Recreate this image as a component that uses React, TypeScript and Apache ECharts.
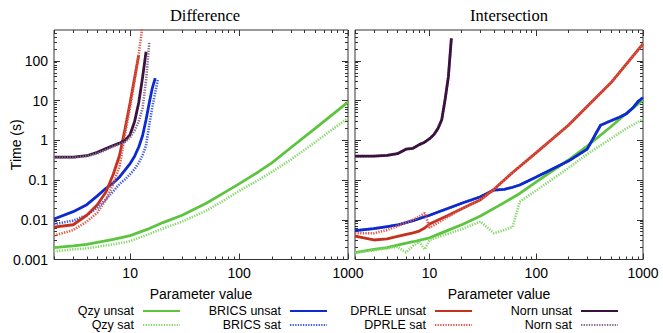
import React, { useEffect, useRef } from 'react';
import * as echarts from 'echarts';

// ---- axis ticks ----
const xTickValues = [10, 100, 1000];
const xTickLabels = ['10', '100', '1000'];
const xMinorTicks = [2, 3, 4, 5, 6, 7, 8, 9, 20, 30, 40, 50, 60, 70, 80, 90, 200, 300, 400, 500, 600, 700, 800, 900];
const yTickValues = [0.001, 0.01, 0.1, 1, 10, 100];
const yTickLabels = ['0.001', '0.01', '0.1', '1', '10', '100'];
const yMinorTicks = [
  0.002, 0.003, 0.004, 0.005, 0.006, 0.007, 0.008, 0.009,
  0.02, 0.03, 0.04, 0.05, 0.06, 0.07, 0.08, 0.09,
  0.2, 0.3, 0.4, 0.5, 0.6, 0.7, 0.8, 0.9,
  2, 3, 4, 5, 6, 7, 8, 9,
  20, 30, 40, 50, 60, 70, 80, 90,
  200, 300, 400, 500,
];

// ---- Difference panel ----
const diffQzyX = [2, 3, 4, 5, 7, 10, 15, 20, 30, 50, 70, 100, 150, 200, 300, 500, 700, 1000];
const diffQzyUnsat = [0.002, 0.0022, 0.0024, 0.0027, 0.0032, 0.004, 0.006, 0.0085, 0.013, 0.026, 0.045, 0.08, 0.16, 0.27, 0.66, 2.0, 4.2, 9.2];
const diffQzySat = [0.0016, 0.0018, 0.0019, 0.0021, 0.0024, 0.0029, 0.0044, 0.006, 0.009, 0.017, 0.029, 0.053, 0.1, 0.16, 0.33, 0.9, 1.8, 3.6];

const diffBricsUnsatX = [2, 3, 4, 5, 6, 7, 8, 9, 10, 11, 12, 13, 14, 15, 16, 17];
const diffBricsUnsat = [0.0105, 0.016, 0.024, 0.04, 0.062, 0.085, 0.12, 0.18, 0.26, 0.4, 0.68, 1.3, 3.3, 9, 21, 37];
const diffBricsSatX = [2, 3, 4, 5, 6, 7, 8, 9, 10, 11, 12, 13, 14, 15, 16, 17, 18];
const diffBricsSat = [0.0078, 0.0095, 0.013, 0.02, 0.033, 0.052, 0.08, 0.105, 0.14, 0.19, 0.27, 0.42, 0.75, 2.5, 7, 16, 35];

const diffDprleUnsatX = [2, 3, 4, 5, 6, 7, 8, 9, 10, 11, 12];
const diffDprleUnsat = [0.0065, 0.0075, 0.013, 0.024, 0.05, 0.14, 0.42, 2.0, 9, 38, 140];
const diffDprleSatX = [2, 3, 4, 5, 6, 7, 8, 9, 10, 11, 12, 13];
const diffDprleSat = [0.004, 0.0055, 0.009, 0.015, 0.032, 0.08, 0.22, 1.5, 7, 32, 150, 800];

const diffNornUnsatX = [2, 3, 4, 5, 6, 7, 8, 9, 10, 11, 12, 13, 14];
const diffNornUnsat = [0.38, 0.38, 0.41, 0.5, 0.62, 0.74, 0.85, 1.0, 1.4, 3.0, 9, 38, 170];
const diffNornSatX = [2, 3, 4, 5, 6, 7, 8, 9, 10, 11, 12, 13, 14, 15];
const diffNornSat = [0.37, 0.37, 0.4, 0.47, 0.58, 0.7, 0.8, 0.92, 1.2, 1.8, 3.0, 6.5, 32, 300];

// ---- Intersection panel ----
const intQzyUnsatX = [2, 3, 4, 5, 7, 10, 15, 20, 30, 50, 70, 100, 150, 200, 300, 500, 700, 1000];
const intQzyUnsat = [0.0015, 0.0018, 0.002, 0.0023, 0.0028, 0.0035, 0.0055, 0.0075, 0.0125, 0.027, 0.046, 0.09, 0.19, 0.32, 0.72, 2.2, 4.8, 10.4];
const intQzySatX = [2, 3, 4, 5, 6, 7, 8, 9, 10, 20, 30, 40, 50, 60, 70, 100, 200, 300, 500, 700, 1000];
const intQzySat = [0.0015, 0.0017, 0.0019, 0.0021, 0.0015, 0.0022, 0.0028, 0.0018, 0.0031, 0.0058, 0.009, 0.0046, 0.0055, 0.0066, 0.0285, 0.055, 0.2, 0.45, 1.1, 2.0, 3.4];

const intBricsX = [2, 3, 4, 5, 7, 10, 20, 30, 40, 50, 60, 70, 100, 200, 300, 400, 500, 600, 700, 800, 900, 1000];
const intBricsUnsat = [0.0053, 0.006, 0.0067, 0.0074, 0.0095, 0.013, 0.026, 0.038, 0.056, 0.058, 0.066, 0.075, 0.12, 0.3, 0.6, 2.4, 3.1, 3.8, 4.7, 6.5, 9.5, 12];
const intBricsSat = [0.0053, 0.006, 0.0067, 0.0074, 0.0095, 0.013, 0.026, 0.038, 0.056, 0.058, 0.066, 0.075, 0.12, 0.3, 0.6, 2.4, 3.1, 3.8, 4.7, 6.5, 9.5, 12];

const intDprleUnsatX = [2, 3, 4, 5, 7, 8, 9, 10, 15, 20, 30, 40, 50, 60, 70, 100, 200, 500, 1000];
const intDprleUnsat = [0.0039, 0.0031, 0.0033, 0.0038, 0.0047, 0.0052, 0.0062, 0.0078, 0.013, 0.019, 0.032, 0.058, 0.1, 0.155, 0.22, 0.49, 2.4, 28, 270];
const intDprleSatX = [2, 3, 4, 5, 6, 7, 8, 9, 10, 15, 20, 30, 40, 50, 60, 70, 100, 200, 500, 1000];
const intDprleSat = [0.0046, 0.0046, 0.0055, 0.007, 0.0085, 0.01, 0.012, 0.0148, 0.0063, 0.012, 0.019, 0.032, 0.058, 0.1, 0.155, 0.22, 0.49, 2.4, 28, 270];

const intNornX = [2, 3, 4, 5, 6, 7, 8, 9, 10, 11, 12, 13, 14, 15, 16];
const intNornUnsat = [0.4, 0.4, 0.42, 0.46, 0.6, 0.63, 0.78, 0.9, 1.1, 1.4, 2.0, 3.3, 11, 40, 370];
const intNornSat = [0.39, 0.4, 0.42, 0.46, 0.6, 0.63, 0.78, 0.9, 1.1, 1.4, 2.0, 3.3, 11, 40, 370];

const names = ['Qzy unsat', 'Qzy sat', 'BRICS unsat', 'BRICS sat', 'DPRLE unsat', 'DPRLE sat', 'Norn unsat', 'Norn sat'];
const colors: Record<string, string> = {
  'Qzy unsat': '#5cc43f',
  'Qzy sat': '#86d96a',
  'BRICS unsat': '#0c2ad0',
  'BRICS sat': '#3c5ae6',
  'DPRLE unsat': '#c4321f',
  'DPRLE sat': '#e0574a',
  'Norn unsat': '#3a1240',
  'Norn sat': '#86688c',
};

const SANS = '"Liberation Sans", Arial, Helvetica, sans-serif';
const SERIF = '"Liberation Serif", "Times New Roman", serif';
const FS = 14;
const LEGEND_FS = 12.5;

const zip = (xs: number[], ys: number[]) => xs.map((x, i) => [x, ys[i]]);

const labelFor = (vals: number[], labels: string[]) => (v: number) => {
  for (let i = 0; i < vals.length; i++) {
    if (Math.abs(Math.log10(v) - Math.log10(vals[i])) < 1e-6) return labels[i];
  }
  return '';
};

const tickColor = '#333';

function xAxes(grid: number) {
  const base = {
    type: 'log', logBase: 10, min: 2, max: 1000, gridIndex: grid,
    splitLine: { show: false }, axisLine: { show: false, onZero: false },
  };
  return [
    {
      ...base, position: 'bottom',
      axisTick: { show: true, inside: true, length: 6, customValues: xTickValues, lineStyle: { color: tickColor } },
      axisLabel: {
        show: true, customValues: xTickValues, formatter: labelFor(xTickValues, xTickLabels),
        margin: 6, color: '#000', fontSize: FS, fontFamily: SANS,
      },
      name: 'Parameter value', nameLocation: 'middle', nameGap: 27, nameMoveOverlap: false,
      nameTextStyle: { color: '#000', fontSize: FS, fontFamily: SANS },
    },
    {
      ...base, position: 'bottom',
      axisTick: { show: true, inside: true, length: 3, customValues: xMinorTicks, lineStyle: { color: tickColor } },
      axisLabel: { show: false },
    },
    {
      ...base, position: 'top',
      axisTick: { show: true, inside: true, length: 6, customValues: xTickValues, lineStyle: { color: tickColor } },
      axisLabel: { show: false },
    },
    {
      ...base, position: 'top',
      axisTick: { show: true, inside: true, length: 3, customValues: xMinorTicks, lineStyle: { color: tickColor } },
      axisLabel: { show: false },
    },
  ];
}

function yAxes(grid: number, showLabels: boolean) {
  const base = {
    type: 'log', logBase: 10, min: 0.001, max: 600, gridIndex: grid,
    splitLine: { show: false }, axisLine: { show: false, onZero: false },
  };
  return [
    {
      ...base, position: 'left',
      axisTick: { show: true, inside: true, length: 6, customValues: yTickValues, lineStyle: { color: tickColor } },
      axisLabel: showLabels
        ? {
            show: true, customValues: yTickValues, formatter: labelFor(yTickValues, yTickLabels),
            margin: 6, color: '#000', fontSize: FS, fontFamily: SANS,
          }
        : { show: false },
      name: showLabels ? 'Time (s)' : '', nameLocation: 'middle', nameGap: 31, nameMoveOverlap: false,
      nameTextStyle: { color: '#000', fontSize: FS, fontFamily: SANS },
    },
    {
      ...base, position: 'left',
      axisTick: { show: true, inside: true, length: 3, customValues: yMinorTicks, lineStyle: { color: tickColor } },
      axisLabel: { show: false },
    },
    {
      ...base, position: 'right',
      axisTick: { show: true, inside: true, length: 6, customValues: yTickValues, lineStyle: { color: tickColor } },
      axisLabel: { show: false },
    },
    {
      ...base, position: 'right',
      axisTick: { show: true, inside: true, length: 3, customValues: yMinorTicks, lineStyle: { color: tickColor } },
      axisLabel: { show: false },
    },
  ];
}

function line(name: string, grid: number, xs: number[], ys: number[], z: number) {
  const dotted = name.endsWith(' sat');
  return {
    type: 'line', name,
    xAxisIndex: grid * 4, yAxisIndex: grid * 4,
    data: zip(xs, ys),
    symbol: 'none', showSymbol: false, clip: true, z,
    lineStyle: { color: colors[name], width: dotted ? 2.6 : 2.8, type: dotted ? [1.3, 1.3] : 'solid' },
    itemStyle: { color: colors[name] },
    emphasis: { disabled: true },
  };
}

function legend(items: string[], right: number) {
  return {
    orient: 'vertical', align: 'right', right, top: 304, height: 60, width: 200,
    data: items, itemWidth: 37, itemHeight: 12, itemGap: 0, padding: 0,
    selectedMode: false,
    itemStyle: { opacity: 0 },
    textStyle: { color: '#000', fontSize: LEGEND_FS, lineHeight: 14, fontFamily: SANS, padding: [0, 4, 0, 0] },
  };
}

export default function App() {
  const ref = useRef<HTMLDivElement>(null);
  useEffect(() => {
    if (!ref.current) return;
    const chart = echarts.init(ref.current, null, { renderer: 'svg' });
    const gridBase = { show: true, borderColor: '#333', borderWidth: 1, backgroundColor: 'transparent', containLabel: false, outerBoundsMode: 'none' };
    chart.setOption({
      animation: false,
      backgroundColor: '#fff',
      grid: [
        { ...gridBase, left: 54, top: 30, width: 294, height: 229.5 },
        { ...gridBase, left: 355, top: 30, width: 288, height: 229.5 },
      ],
      xAxis: [...xAxes(0), ...xAxes(1)],
      yAxis: [...yAxes(0, true), ...yAxes(1, false)],
      legend: [
        legend(['Qzy unsat', 'Qzy sat'], 482),
        legend(['BRICS unsat', 'BRICS sat'], 335),
        legend(['DPRLE unsat', 'DPRLE sat'], 190),
        legend(['Norn unsat', 'Norn sat'], 44),
      ],
      graphic: [
        { type: 'text', x: 205, y: 15, style: { text: 'Difference', align: 'center', verticalAlign: 'middle', fontSize: 16.5, fontFamily: SERIF, fill: '#000' } },
        { type: 'text', x: 509, y: 15, style: { text: 'Intersection', align: 'center', verticalAlign: 'middle', fontSize: 16.5, fontFamily: SERIF, fill: '#000' } },
      ],
      series: [
        line(names[0], 0, diffQzyX, diffQzyUnsat, 2),
        line(names[1], 0, diffQzyX, diffQzySat, 3),
        line(names[2], 0, diffBricsUnsatX, diffBricsUnsat, 4),
        line(names[3], 0, diffBricsSatX, diffBricsSat, 5),
        line(names[4], 0, diffDprleUnsatX, diffDprleUnsat, 6),
        line(names[5], 0, diffDprleSatX, diffDprleSat, 7),
        line(names[6], 0, diffNornUnsatX, diffNornUnsat, 8),
        line(names[7], 0, diffNornSatX, diffNornSat, 9),
        line(names[0], 1, intQzyUnsatX, intQzyUnsat, 2),
        line(names[1], 1, intQzySatX, intQzySat, 3),
        line(names[2], 1, intBricsX, intBricsUnsat, 5),
        line(names[3], 1, intBricsX, intBricsSat, 4),
        line(names[4], 1, intDprleUnsatX, intDprleUnsat, 6),
        line(names[5], 1, intDprleSatX, intDprleSat, 7),
        line(names[6], 1, intNornX, intNornUnsat, 9),
        line(names[7], 1, intNornX, intNornSat, 8),
      ],
    });
    return () => chart.dispose();
  }, []);
  return <div ref={ref} style={{ width: 663, height: 333, position: 'absolute', left: 0, top: 0 }} />;
}
